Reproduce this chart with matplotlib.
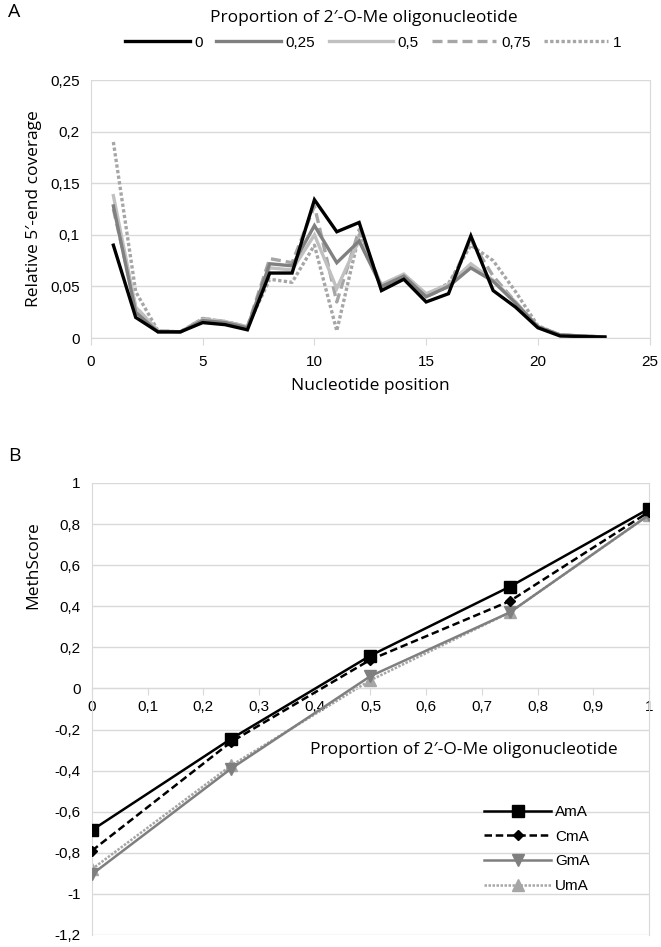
import matplotlib

matplotlib.use("Agg")
import matplotlib.pyplot as plt
from matplotlib.ticker import FuncFormatter, MultipleLocator

# ---- panel A data: relative 5'-end coverage per nucleotide position ----
positions = list(range(1, 24))
proportions_a = ["0", "0,25", "0,5", "0,75", "1"]
cov_0 = [0.090, 0.020, 0.006, 0.006, 0.015, 0.013, 0.008, 0.063, 0.063, 0.134, 0.103, 0.112,
         0.046, 0.057, 0.035, 0.043, 0.099, 0.046, 0.030, 0.010, 0.002, 0.0015, 0.001]
cov_025 = [0.128, 0.025, 0.006, 0.006, 0.017, 0.015, 0.010, 0.072, 0.070, 0.109, 0.073, 0.094,
           0.050, 0.060, 0.040, 0.050, 0.068, 0.055, 0.034, 0.011, 0.003, 0.002, 0.001]
cov_05 = [0.138, 0.030, 0.007, 0.006, 0.018, 0.016, 0.011, 0.068, 0.066, 0.100, 0.048, 0.095,
          0.052, 0.062, 0.043, 0.052, 0.072, 0.056, 0.035, 0.011, 0.003, 0.002, 0.001]
cov_075 = [0.125, 0.030, 0.007, 0.006, 0.019, 0.016, 0.011, 0.077, 0.073, 0.128, 0.035, 0.105,
           0.050, 0.060, 0.040, 0.050, 0.095, 0.060, 0.035, 0.011, 0.003, 0.002, 0.001]
cov_1 = [0.190, 0.045, 0.007, 0.006, 0.019, 0.016, 0.011, 0.057, 0.054, 0.090, 0.007, 0.100,
         0.050, 0.060, 0.042, 0.053, 0.090, 0.075, 0.045, 0.012, 0.003, 0.002, 0.001]

# ---- panel B data: MethScore vs proportion ----
proportion_b = [0, 0.25, 0.5, 0.75, 1]
score_ama = [-0.69, -0.245, 0.16, 0.495, 0.875]
score_cma = [-0.79, -0.26, 0.14, 0.425, 0.86]
score_gma = [-0.905, -0.39, 0.06, 0.37, 0.845]
score_uma = [-0.88, -0.375, 0.04, 0.37, 0.845]

TITLE_FONT = ["Open Sans", "DejaVu Sans"]
TICK_FONT = ["Liberation Sans Narrow", "Liberation Sans", "DejaVu Sans"]
GRID = "#d9d9d9"


def comma(v, _pos):
    s = f"{v:.2f}".rstrip("0").rstrip(".")
    return s.replace(".", ",")


fig = plt.figure(figsize=(6.61, 9.47), dpi=100)

# ------------------------------ panel A ------------------------------
ax_a = fig.add_axes([0.1377, 0.643, 0.845, 0.2725])
styles_a = [
    (cov_0, dict(color="black", lw=2.4, ls="-")),
    (cov_025, dict(color="#808080", lw=2.4, ls="-")),
    (cov_05, dict(color="#c0c0c0", lw=2.4, ls="-")),
    (cov_075, dict(color="#a6a6a6", lw=2.4, ls=(0, (3, 1.5)))),
    (cov_1, dict(color="#a6a6a6", lw=2.4, ls=(0, (1, 0.7)))),
]
# draw light series first so black ends on top
lines = {}
for i in [4, 3, 2, 1, 0]:
    vals, st = styles_a[i]
    (ln,) = ax_a.plot(positions, vals, label=proportions_a[i], solid_joinstyle="miter", **st)
    lines[i] = ln

ax_a.set_xlim(0, 25)
ax_a.set_ylim(0, 0.25)
ax_a.xaxis.set_major_locator(MultipleLocator(5))
ax_a.yaxis.set_major_locator(MultipleLocator(0.05))
ax_a.yaxis.set_major_formatter(FuncFormatter(comma))
ax_a.grid(axis="y", color=GRID, lw=1)
for side in ["top", "right", "left", "bottom"]:
    ax_a.spines[side].set_color(GRID)
ax_a.spines["top"].set_visible(False)
ax_a.tick_params(axis="x", length=5, color=GRID, labelsize=11, pad=7.5)
ax_a.tick_params(axis="y", length=0, labelsize=11, pad=8)
for lab in ax_a.get_xticklabels() + ax_a.get_yticklabels():
    lab.set_family(TICK_FONT)
ax_a.set_xlabel("Nucleotide position", family=TITLE_FONT, fontsize=12.5, labelpad=6)
ax_a.set_ylabel("Relative 5′-end coverage", family=TITLE_FONT, fontsize=12.5, labelpad=6)

fig.legend([lines[i] for i in range(5)], proportions_a, ncol=5,
           loc="center", bbox_to_anchor=(0.565, 0.955), frameon=False,
           handlelength=4.2, handletextpad=0.3, columnspacing=0.9,
           prop={"family": TICK_FONT, "size": 11})
fig.text(0.55, 0.981, "Proportion of 2′-O-Me oligonucleotide", ha="center", va="center",
         family=TITLE_FONT, fontsize=12.5)
fig.text(0.012, 0.987, "A", family=TITLE_FONT, fontsize=14, va="center")

# ------------------------------ panel B ------------------------------
ax_b = fig.add_axes([0.139, 0.0127, 0.843, 0.4773])
ax_b.plot(proportion_b, score_ama, color="black", lw=1.8, marker="s", ms=9, label="AmA", zorder=5)
ax_b.plot(proportion_b, score_cma, color="black", lw=1.8, ls=(0, (3, 1.5)), marker="D", ms=5.5,
          label="CmA", zorder=4)
ax_b.plot(proportion_b, score_gma, color="#7f7f7f", lw=1.8, marker="v", ms=8, label="GmA", zorder=3)
ax_b.plot(proportion_b, score_uma, color="#a6a6a6", lw=1.8, ls=(0, (1, 0.6)), marker="^", ms=8,
          label="UmA", zorder=2)

ax_b.set_xlim(0, 1)
ax_b.set_ylim(-1.2, 1)
ax_b.xaxis.set_major_locator(MultipleLocator(0.1))
ax_b.yaxis.set_major_locator(MultipleLocator(0.2))
ax_b.xaxis.set_major_formatter(FuncFormatter(comma))
ax_b.yaxis.set_major_formatter(FuncFormatter(comma))
ax_b.grid(axis="y", color=GRID, lw=1)
ax_b.spines["bottom"].set_position(("data", 0))
for side in ["top", "right", "left", "bottom"]:
    ax_b.spines[side].set_color(GRID)
ax_b.spines["top"].set_visible(False)
ax_b.tick_params(axis="x", length=5, color=GRID, labelsize=11, pad=3)
ax_b.tick_params(axis="y", length=0, labelsize=11, pad=8)
for lab in ax_b.get_xticklabels() + ax_b.get_yticklabels():
    lab.set_family(TICK_FONT)
ax_b.set_ylabel("MethScore", family=TITLE_FONT, fontsize=12.5)
ax_b.yaxis.set_label_coords(-0.09, 0.818)
ax_b.text(0.667, -0.30, "Proportion of 2′-O-Me oligonucleotide", ha="center", va="center",
          family=TITLE_FONT, fontsize=12.5)
ax_b.legend(loc="center left", bbox_to_anchor=(0.704, 0.19), frameon=False, borderpad=0,
            borderaxespad=0, handlelength=4.4, handletextpad=0.25, labelspacing=0.7,
            prop={"family": TICK_FONT, "size": 11})
fig.text(0.012, 0.518, "B", family=TITLE_FONT, fontsize=14, va="center")

fig.savefig("out.png", dpi=100)
